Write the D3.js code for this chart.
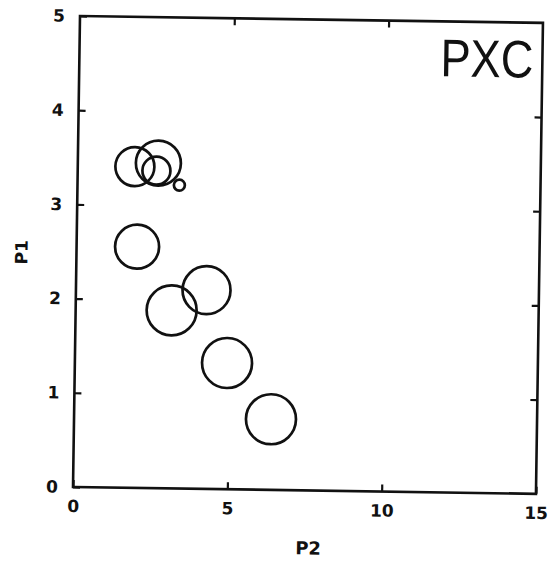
<!DOCTYPE html>
<html>
<head>
<meta charset="utf-8">
<script src="https://cdn.jsdelivr.net/npm/d3@7"></script>
<style>
  html, body { margin: 0; padding: 0; background: #fff; }
  svg { display: block; }
</style>
</head>
<body>
<svg id="chart" width="557" height="567"></svg>
<script>
// P2 (x), P1 (y) and relative bubble size for each sample
const p2Values = [1.85, 2.61, 2.55, 3.30, 1.96, 3.11, 4.23, 4.93, 6.38];
const p1Values = [3.41, 3.45, 3.37, 3.22, 2.56, 1.89, 2.11, 1.34, 0.75];
const sizeValues = [0.78, 0.90, 0.56, 0.22, 0.88, 1.00, 0.96, 1.00, 1.00];

const xTicks = [0, 5, 10, 15];
const yTicks = [0, 1, 2, 3, 4, 5];
const panelTitle = "PXC";
const xLabel = "P2";
const yLabel = "P1";

const W = 463, H = 471;
const ink = "#111";
const tickFont = "'DejaVu Sans', sans-serif";

const svg = d3.select("#chart");
const g = svg.append("g").attr("transform", "translate(80,16) rotate(0.85)");

const x = d3.scaleLinear().domain([0, 15]).range([0, W]);
const y = d3.scaleLinear().domain([0, 5]).range([H, 0]);
const r = d3.scaleLinear().domain([0, 1]).range([0, 25]);

function styleAxis(sel) {
  sel.select(".domain").remove();
  sel.selectAll(".tick line").attr("stroke", ink).attr("stroke-width", 2.2);
  sel.selectAll(".tick text")
    .attr("fill", ink)
    .attr("font-family", tickFont)
    .attr("font-weight", "bold")
    .attr("font-size", 17);
}

// left axis with labels, inward ticks
g.append("g")
  .call(d3.axisLeft(y).tickValues(yTicks).tickSizeInner(-7).tickSizeOuter(0)
    .tickPadding(15).tickFormat(d3.format("d")))
  .call(styleAxis);

// right axis, ticks only
g.append("g").attr("transform", `translate(${W},0)`)
  .call(d3.axisRight(y).tickValues([1, 2, 3, 4]).tickSizeInner(-7).tickSizeOuter(0).tickFormat(""))
  .call(styleAxis);

// bottom axis with labels
g.append("g").attr("transform", `translate(0,${H})`)
  .call(d3.axisBottom(x).tickValues(xTicks).tickSizeInner(-7).tickSizeOuter(0)
    .tickPadding(13).tickFormat(d3.format("d")))
  .call(styleAxis);

// top axis, ticks only
g.append("g")
  .call(d3.axisTop(x).tickValues([5, 10]).tickSizeInner(-7).tickSizeOuter(0).tickFormat(""))
  .call(styleAxis);

// frame
g.append("rect")
  .attr("x", 0).attr("y", 0).attr("width", W).attr("height", H)
  .attr("fill", "none").attr("stroke", ink).attr("stroke-width", 2.6);

// bubbles
const pts = p2Values.map((v, i) => ({ p2: v, p1: p1Values[i], s: sizeValues[i] }));
g.append("g").selectAll("circle").data(pts).join("circle")
  .attr("cx", d => x(d.p2))
  .attr("cy", d => y(d.p1))
  .attr("r", d => r(d.s))
  .attr("fill", "none")
  .attr("stroke", ink)
  .attr("stroke-width", 2.7);

// panel title
g.append("text")
  .attr("x", W - 9).attr("y", 55)
  .attr("text-anchor", "end")
  .attr("font-family", "'Liberation Sans', Arial, sans-serif")
  .attr("font-size", 53)
  .attr("textLength", 93)
  .attr("lengthAdjust", "spacingAndGlyphs")
  .attr("fill", ink)
  .text(panelTitle);

// axis titles
g.append("text")
  .attr("x", 236).attr("y", 535)
  .attr("text-anchor", "middle")
  .attr("font-family", tickFont).attr("font-weight", "bold").attr("font-size", 18)
  .attr("fill", ink)
  .text(xLabel);

g.append("text")
  .attr("transform", "translate(-49,237) rotate(-90)")
  .attr("text-anchor", "middle")
  .attr("font-family", tickFont).attr("font-weight", "bold").attr("font-size", 17)
  .attr("fill", ink)
  .text(yLabel);
</script>
</body>
</html>
